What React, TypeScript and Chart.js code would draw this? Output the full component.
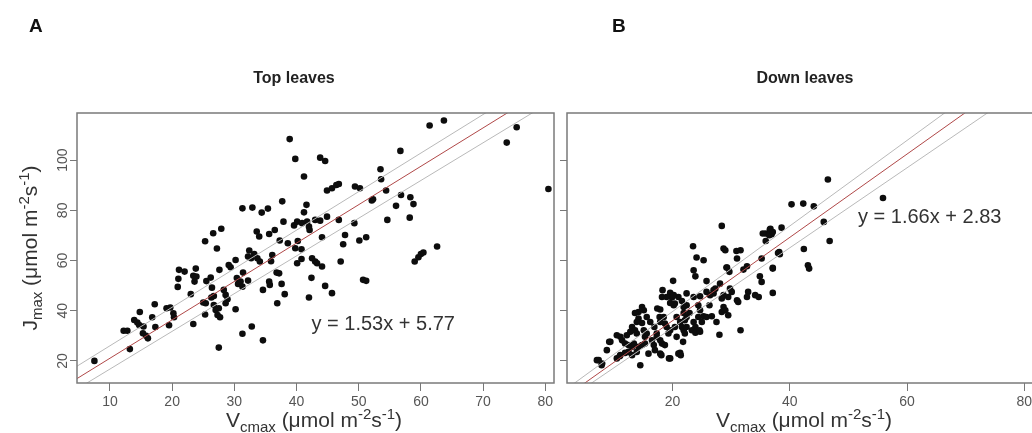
import React, { useEffect, useRef } from "react";
import { Chart, registerables } from "chart.js";

Chart.register(...registerables);

const FONT = '"Liberation Sans", Arial, sans-serif';

// ---------- Data: top leaves (Vcmax, Jmax) ----------
const topLeaves: [number, number][] = [
  [7.5, 20.0], [13.2, 24.7], [12.2, 32], [12.8, 32], [14.8, 39.5], [13.9, 36.3], [14.4, 35.3], [14.7, 34.3],
  [15.4, 33.7], [15.3, 31], [15.8, 30], [16.1, 29], [16.8, 37.4], [17.2, 42.6], [17.3, 33.5], [19.1, 41],
  [19.7, 41.3], [20.2, 39], [20.3, 37.4], [19.5, 34.2], [21.1, 56.3], [22, 55.6], [21, 52.7], [20.9, 49.5],
  [23, 46.6], [23.4, 34.7], [23.8, 56.8], [23.4, 53.9], [23.9, 53.6], [23.6, 51.6], [25.3, 67.7], [26.6, 70.9],
  [27.9, 72.7], [27.2, 64.8], [25.5, 51.8], [26.2, 53.2], [25, 43.3], [25.4, 43], [25.3, 38.5], [26.4, 49.2],
  [26.7, 45.9], [26.7, 42.3], [27, 40.3], [27.3, 38.3], [27.5, 41], [27.7, 37.4], [27.6, 56.3], [28.3, 48.3],
  [28.6, 46.3], [28.9, 44.6], [28.6, 43], [29.1, 58.2], [29.4, 57.3], [27.5, 25.3], [30.2, 40.6], [30.4, 53],
  [30.6, 50.7], [31, 51.6], [31.3, 49.6], [30.2, 60.2], [31.3, 80.8], [32.9, 81.1], [34.4, 79.1], [35.4, 80.7],
  [33.6, 71.6], [34, 69.6], [32.4, 64], [32.2, 61.6], [32.7, 60.9], [33.2, 62.6], [33.7, 60.9], [34.1, 59.6],
  [32.2, 52], [31.3, 30.8], [32.8, 33.7], [34.6, 28.2], [34.6, 48.3], [35.6, 51.6], [35.7, 50.3], [35.6, 70.6],
  [36.5, 72.2], [35.9, 59.7], [36.9, 43], [36.8, 55.2], [37.2, 54.9], [37.6, 50.7], [38.1, 46.6], [37.3, 68],
  [37.9, 75.5], [37.7, 83.6], [38.6, 66.9], [38.9, 108.4], [39.8, 100.5], [41.2, 93.5], [39.6, 74], [40.1, 75.5],
  [40.9, 74.9], [41.7, 75.5], [41.6, 82.2], [41.2, 79.2], [40.2, 67.8], [39.8, 64.9], [40.8, 64.5], [40.1, 58.9],
  [40.8, 60.6], [42.4, 53.1], [42, 45.3], [43.8, 101], [44.6, 99.7], [42, 73.5], [42.1, 72.2], [43, 76.2],
  [43.8, 75.9], [44.9, 77.5], [44.1, 69.3], [42.5, 60.9], [43, 59.6], [43.3, 58.9], [44.1, 57.6], [44.6, 49.9],
  [45.7, 47], [44.9, 87.9], [45.7, 88.8], [46.4, 90.1], [46.8, 90.5], [46.8, 76.2], [47.8, 70.2], [47.5, 66.5],
  [47.1, 59.6], [49.4, 89.5], [50.2, 88.8], [49.3, 74.9], [50.1, 68], [51.2, 69.3], [50.7, 52.3], [51.2, 51.9],
  [52.3, 84.4], [52.1, 83.9], [53.5, 96.4], [53.6, 92.4], [54.4, 87.9], [54.6, 76.2], [56.7, 103.7], [56.8, 86.1],
  [56, 81.8], [58.3, 85.2], [58.8, 82.5], [58.2, 77.1], [59, 59.6], [59.6, 61.3], [60, 62.6], [60.4, 63.2],
  [62.6, 65.6], [61.4, 113.8], [63.7, 115.8], [73.8, 107], [75.4, 113.1], [80.5, 88.5], [36.1, 62.2], [31.4, 55.2],
  [26.3, 45.3],
];

// ---------- Data: down leaves (Vcmax, Jmax) ----------
const downLeaves: [number, number][] = [
  [40.3, 82.4], [42.3, 82.7], [44.1, 81.6], [46.5, 92.3], [55.9, 84.9], [38.6, 73.1], [45.8, 75.4], [46.8, 67.8],
  [42.4, 64.6], [43.1, 58.1], [43.3, 56.8], [28.4, 73.8], [23.5, 65.7], [28.7, 64.8], [29, 64.1], [31.6, 64.1],
  [24.1, 61.2], [25.3, 60.1], [31, 60.8], [35.9, 70.8], [36.6, 72.4], [36.9, 70.5], [36.5, 70.1], [35.9, 67.8],
  [38.2, 63.4], [38.3, 62.5], [35.2, 60.8], [37.1, 56.8], [34.9, 53.7], [35.2, 51.5], [32.7, 57.7], [32.1, 56.4],
  [29.3, 57.2], [29.7, 55.5], [23.6, 56.1], [23.9, 53.7], [20.1, 51.9], [25.8, 51.8], [28.1, 50.8], [27.3, 48.8],
  [27, 48.2], [29.8, 48.8], [30.1, 47.5], [29.5, 45.5], [28.7, 46.2], [28.4, 44.9], [32.9, 47.5], [32.7, 45.5],
  [34.1, 46.2], [34.7, 45.5], [37.1, 47.1], [31, 44.2], [31.2, 43.5], [22.4, 46.9], [23.6, 45.5], [24.7, 45.8],
  [25.8, 47.5], [26.4, 46.2], [27, 46.9], [18.3, 48.2], [18.2, 45.5], [19.6, 47.1], [19.9, 45.3], [20.4, 42.9],
  [20.2, 42.2], [21, 45.5], [21.6, 43.9], [21.9, 41.5], [22.4, 42.2], [22.9, 39.1], [22.4, 37.5], [22.1, 36.2],
  [24.4, 42.2], [24.7, 40.2], [25.3, 37.8], [25.8, 37.5], [24.4, 37.5], [23.6, 35.5], [23.9, 33.5], [24.7, 31.6],
  [26.3, 42.2], [28.7, 41.5], [28.4, 39.5], [29, 40.2], [29.5, 38.2], [27.5, 35.5], [26.7, 37.8], [28, 30.4],
  [31.6, 32.2], [17.4, 40.9], [17.9, 40.5], [17.8, 37.5], [14.8, 41.5], [14.2, 39.5], [15.1, 40.2], [13.6, 39.1],
  [14.2, 36.9], [14.8, 35.1], [15.6, 37.5], [13.9, 35.5], [13.1, 33.5], [13.6, 32.2], [13.9, 30.9], [12.8, 31.6],
  [12.2, 30.2], [16.2, 35.5], [16.9, 33.5], [17.3, 30.9], [18.5, 37.5], [18.7, 34.9], [19, 33.5], [19.6, 32.2],
  [19.3, 30.9], [20.7, 37.5], [21.3, 35.5], [20.4, 33.5], [21.6, 33.5], [21.9, 32.2], [20.7, 29.6], [22.4, 33.5],
  [22.1, 30.9], [23.3, 32.2], [23.9, 31.2], [24.6, 32.2], [21.8, 27.6], [21.3, 23.2], [19.6, 21], [17.9, 22.9],
  [18.2, 26.9], [18.7, 26.3], [16.8, 26.3], [17, 24.3], [15.9, 22.9], [16.5, 28.2], [17.3, 29.6], [17.9, 28.2],
  [15.3, 26.9], [14.8, 26.3], [14.2, 25.6], [13.9, 23.6], [14.5, 18.3], [13.1, 22.3], [12.5, 23.6], [11.9, 23.2],
  [11.1, 22.3], [10.5, 21], [11.1, 29.6], [11.4, 28.2], [10.5, 30.2], [9.4, 27.6], [8.8, 24.3], [11.9, 26.9],
  [12.5, 26.3], [13.1, 25.6], [13.4, 26.9], [7.4, 20.3], [8, 19], [7.1, 20.3], [7.9, 18.3], [9.2, 27.6],
  [17.9, 35.5], [25, 35.5], [19, 45.5], [19.6, 43.1], [20.2, 46.2], [21.9, 39.1], [15.1, 32.2], [15.6, 30.9],
  [15.3, 29.6], [29.2, 57.2], [35.4, 70.8], [36.7, 72.7], [37.1, 71.4], [38, 63], [37.1, 57.1], [21, 22.9],
  [21.4, 22.3], [19.4, 21], [18.1, 22.3], [11, 21.9], [30.9, 63.8],
];

// ---------- Regression lines [slope, intercept] ----------
const topFit = [1.53, 5.77];
const topUpper = [1.536, 10.68];
const topLower = [1.503, 1.73];
const downFit = [1.66, 2.83];
const downUpper = [1.705, 5.57];
const downLower = [1.594, 1.32];

// ---------- Axes ----------
const topXRange = [4.7, 81.4];
const downXRange = [2.0, 82.0];
const yRange = [11.2, 118.8];
const topXTicks = [10, 20, 30, 40, 50, 60, 70, 80];
const downXTicks = [20, 40, 60, 80];
const yTicks = [20, 40, 60, 80, 100];

type Panel = {
  letter: string;
  letterX: number;
  title: string;
  titleX: number;
  points: [number, number][];
  fit: number[];
  upper: number[];
  lower: number[];
  xRange: number[];
  xTicks: number[];
  eq: string;
  eqX: number;
  eqY: number;
  xTitleX: number;
  yWidth: number;
  padRight: number;
  showY: boolean;
};

type Seg = { t: string; size: number; dy: number };
const axisSegs = (main: string, sub: string): Seg[] => [
  { t: main, size: 21, dy: 0 },
  { t: sub, size: 15, dy: 5 },
  { t: " (\u03bcmol m", size: 21, dy: 0 },
  { t: "-2", size: 15, dy: -8 },
  { t: "s", size: 21, dy: 0 },
  { t: "-1", size: 15, dy: -8 },
  { t: ")", size: 21, dy: 0 },
];

function drawSegs(ctx: CanvasRenderingContext2D, segs: Seg[], cx: number, base: number) {
  let total = 0;
  const widths = segs.map((s) => {
    ctx.font = `${s.size}px ${FONT}`;
    const w = ctx.measureText(s.t).width;
    total += w;
    return w;
  });
  let x = cx - total / 2;
  ctx.textAlign = "left";
  ctx.textBaseline = "alphabetic";
  segs.forEach((s, i) => {
    ctx.font = `${s.size}px ${FONT}`;
    ctx.fillText(s.t, x, base + s.dy);
    x += widths[i];
  });
}

function lineData(coef: number[], xr: number[]) {
  return xr.map((x) => ({ x, y: coef[1] + coef[0] * x }));
}

function makeConfig(p: Panel): any {
  const decor = {
    id: "decor",
    afterDraw(chart: any) {
      const ctx: CanvasRenderingContext2D = chart.ctx;
      const a = chart.chartArea;
      const ys = chart.scales.y;
      ctx.save();
      // box
      ctx.strokeStyle = "#7a7a7a";
      ctx.lineWidth = 1.5;
      ctx.strokeRect(a.left, a.top, a.right - a.left, a.bottom - a.top);
      // letter
      ctx.fillStyle = "#111";
      ctx.font = `bold 19px ${FONT}`;
      ctx.textAlign = "left";
      ctx.textBaseline = "alphabetic";
      ctx.fillText(p.letter, p.letterX, 32);
      // title
      ctx.font = `bold 16px ${FONT}`;
      ctx.textAlign = "center";
      ctx.fillStyle = "#222";
      ctx.fillText(p.title, p.titleX, 83);
      // equation
      ctx.font = `20px ${FONT}`;
      ctx.textAlign = "left";
      ctx.fillStyle = "#333";
      ctx.fillText(p.eq, p.eqX, p.eqY);
      // x title
      ctx.fillStyle = "#333";
      drawSegs(ctx, axisSegs("V", "cmax"), p.xTitleX, 427);
      if (p.showY) {
        // y tick labels rotated
        ctx.fillStyle = "#555";
        ctx.font = `14px ${FONT}`;
        yTicks.forEach((v) => {
          const py = ys.getPixelForValue(v);
          ctx.save();
          ctx.translate(66.5, py);
          ctx.rotate(-Math.PI / 2);
          ctx.textAlign = "center";
          ctx.textBaseline = "alphabetic";
          ctx.fillText(String(v), 0, 0);
          ctx.restore();
        });
        // y title
        ctx.fillStyle = "#333";
        ctx.save();
        ctx.translate(37, (a.top + a.bottom) / 2);
        ctx.rotate(-Math.PI / 2);
        drawSegs(ctx, axisSegs("J", "max"), 0, 0);
        ctx.restore();
      }
      ctx.restore();
    },
  };

  const lineDs = (coef: number[], color: string) => ({
    type: "line",
    data: lineData(coef, p.xRange),
    borderColor: color,
    borderWidth: 1,
    pointRadius: 0,
    fill: false,
    order: 0,
  });

  return {
    type: "scatter",
    data: {
      datasets: [
        lineDs(p.upper, "#b9b9b9"),
        lineDs(p.lower, "#b9b9b9"),
        lineDs(p.fit, "#b04848"),
        {
          type: "scatter",
          data: p.points.map(([x, y]) => ({ x, y })),
          pointRadius: 3.3,
          pointBackgroundColor: "#0d0d0d",
          pointBorderWidth: 0,
          order: 1,
        },
      ],
    },
    options: {
      animation: false,
      responsive: false,
      maintainAspectRatio: false,
      layout: { padding: { top: 113, right: p.padRight, left: 0, bottom: 0 } },
      plugins: {
        legend: { display: false },
        tooltip: { enabled: false },
        title: { display: false },
      },
      scales: {
        x: {
          type: "linear",
          min: p.xRange[0],
          max: p.xRange[1],
          afterBuildTicks: (s: any) => {
            s.ticks = p.xTicks.map((v) => ({ value: v }));
          },
          afterFit: (s: any) => {
            s.height = 50;
          },
          grid: { drawOnChartArea: false, drawTicks: true, tickLength: 8, color: "#777", lineWidth: 1 },
          border: { display: false },
          ticks: { font: { size: 14, family: FONT }, color: "#555", padding: 3, maxRotation: 0, minRotation: 0 },
        },
        y: {
          type: "linear",
          min: yRange[0],
          max: yRange[1],
          afterBuildTicks: (s: any) => {
            s.ticks = yTicks.map((v) => ({ value: v }));
          },
          afterFit: (s: any) => {
            s.width = p.yWidth;
          },
          grid: { drawOnChartArea: false, drawTicks: true, tickLength: 7, color: "#777", lineWidth: 1 },
          border: { display: false },
          ticks: { display: false },
        },
      },
    },
    plugins: [decor],
  };
}

const leftPanel: Panel = {
  letter: "A",
  letterX: 29,
  title: "Top leaves",
  titleX: 294,
  points: topLeaves,
  fit: topFit,
  upper: topUpper,
  lower: topLower,
  xRange: topXRange,
  xTicks: topXTicks,
  eq: "y = 1.53x + 5.77",
  eqX: 311.5,
  eqY: 329.5,
  xTitleX: 314,
  yWidth: 77,
  padRight: 6,
  showY: true,
};

const rightPanel: Panel = {
  letter: "B",
  letterX: 52,
  title: "Down leaves",
  titleX: 245,
  points: downLeaves,
  fit: downFit,
  upper: downUpper,
  lower: downLower,
  xRange: downXRange,
  xTicks: downXTicks,
  eq: "y = 1.66x + 2.83",
  eqX: 298,
  eqY: 222.5,
  xTitleX: 244,
  yWidth: 7,
  padRight: 4,
  showY: false,
};

function PanelChart({ panel, width, left }: { panel: Panel; width: number; left: number }) {
  const ref = useRef<HTMLCanvasElement>(null);
  useEffect(() => {
    if (!ref.current) return;
    const chart = new Chart(ref.current, makeConfig(panel));
    return () => chart.destroy();
  }, [panel]);
  return (
    <canvas
      ref={ref}
      width={width}
      height={433}
      style={{ position: "absolute", left, top: 0, width, height: 433, display: "block" }}
    />
  );
}

export default function App() {
  return (
    <div
      style={{
        position: "fixed",
        left: 0,
        top: 0,
        width: 1032,
        height: 433,
        overflow: "hidden",
        background: "#fff",
      }}
    >
      <PanelChart panel={leftPanel} width={560} left={0} />
      <PanelChart panel={rightPanel} width={480} left={560} />
    </div>
  );
}
